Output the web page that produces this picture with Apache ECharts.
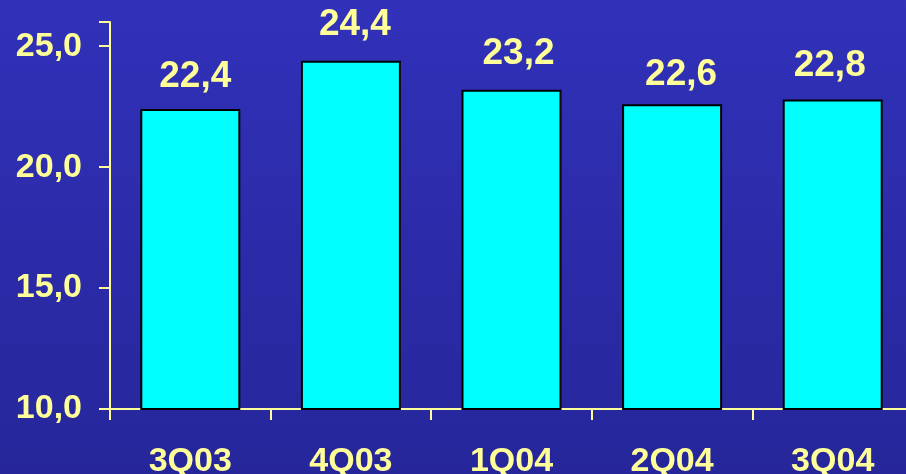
<!DOCTYPE html>
<html>
<head>
<meta charset="utf-8">
<script src="https://cdn.jsdelivr.net/npm/echarts@6/dist/echarts.min.js"></script>
<style>
  html, body { margin: 0; padding: 0; }
  #chart { width: 906px; height: 474px; }
</style>
</head>
<body>
<div id="chart"></div>
<script>
// Quarterly values
const categories = ['3Q03', '4Q03', '1Q04', '2Q04', '3Q04'];
const values = [22.4, 24.4, 23.2, 22.6, 22.8];

// hand-placed nudges of the value labels, [dx, dy] in px
const labelNudge = [[5, -2], [4, -5], [7, -5], [9, 1], [-3, -3]];

const yellow = '#ffff99';
const fontFamily = 'Liberation Sans, Arial, sans-serif';
const fmt = v => v.toFixed(1).replace('.', ',');

const chart = echarts.init(document.getElementById('chart'));
chart.setOption({
  animation: false,
  backgroundColor: {
    type: 'linear', x: 0, y: 0, x2: 0, y2: 1,
    colorStops: [
      { offset: 0, color: '#3131ba' },
      { offset: 1, color: '#26269a' }
    ]
  },
  // plot area runs a little past the right edge of the canvas
  grid: {
    left: 110, width: 803, top: 22, height: 387,
    containLabel: false, outerBoundsMode: 'none'
  },
  xAxis: {
    type: 'category',
    data: categories,
    boundaryGap: true,
    axisLine: { lineStyle: { color: yellow, width: 2 } },
    axisTick: { show: true, length: 11, lineStyle: { color: yellow, width: 2 } },
    axisLabel: {
      color: yellow, fontFamily: fontFamily,
      fontWeight: 'bold', fontSize: 34, margin: 36
    }
  },
  yAxis: {
    type: 'value',
    min: 10, max: 26, interval: 5,
    axisLine: { show: true, lineStyle: { color: yellow, width: 2 } },
    axisTick: { show: true, length: 11, lineStyle: { color: yellow, width: 2 } },
    splitLine: { show: false },
    axisLabel: {
      color: yellow, fontFamily: fontFamily,
      fontWeight: 'bold', fontSize: 34, margin: 28,
      formatter: v => (v % 5 === 0 ? fmt(v) : '')
    }
  },
  series: [{
    type: 'bar',
    data: values.map((v, i) => ({
      value: v,
      label: { offset: labelNudge[i] }
    })),
    barWidth: 100,
    itemStyle: { color: '#00ffff', borderColor: '#000000', borderWidth: 2 },
    label: {
      show: true, position: 'top', distance: 12,
      color: yellow, fontFamily: fontFamily,
      fontWeight: 'bold', fontSize: 37,
      formatter: p => fmt(p.value)
    }
  }]
});
</script>
</body>
</html>
